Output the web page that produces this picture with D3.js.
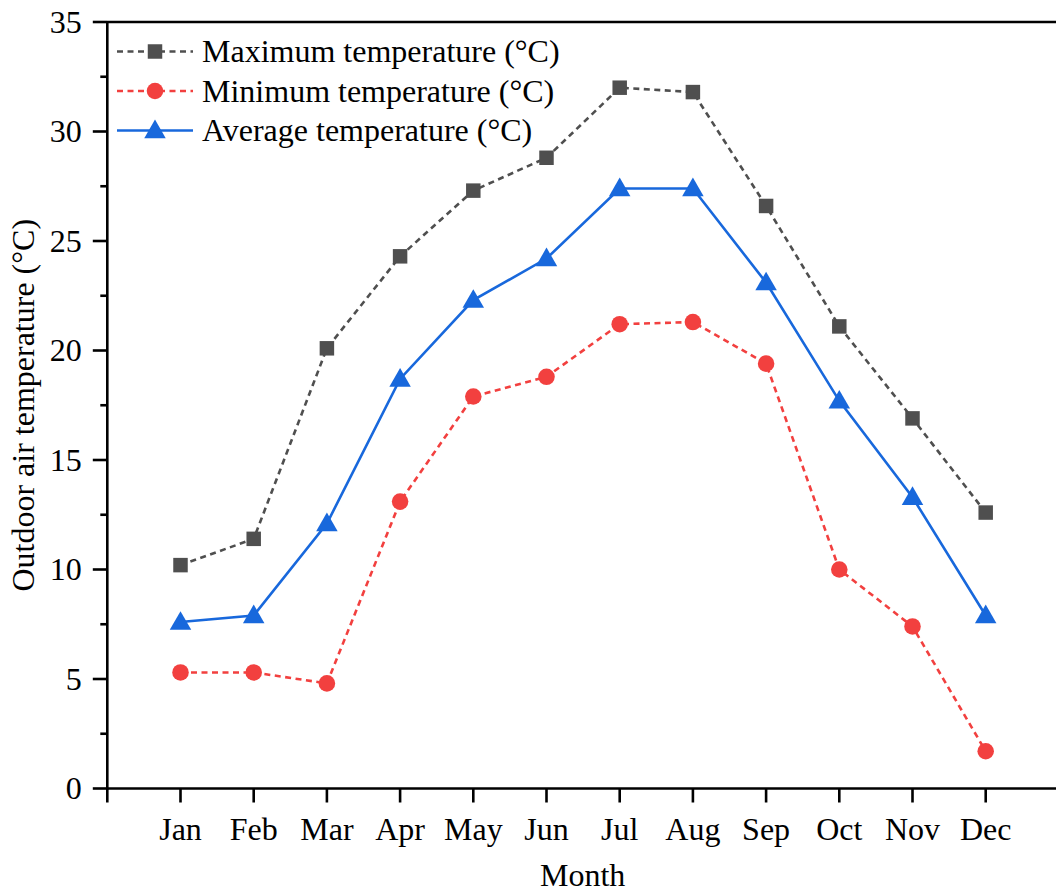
<!DOCTYPE html>
<html>
<head>
<meta charset="utf-8">
<script src="https://cdn.jsdelivr.net/npm/d3@7"></script>
<style>
  html, body { margin: 0; padding: 0; background: #fff; }
  svg { display: block; }
  text { font-family: "Liberation Serif", "Times New Roman", serif; fill: #000; }
</style>
</head>
<body>
<svg id="chart" width="1056" height="895"></svg>
<script>
// Monthly outdoor air temperature (°C)
const months = ["Jan", "Feb", "Mar", "Apr", "May", "Jun", "Jul", "Aug", "Sep", "Oct", "Nov", "Dec"];
const maxTemp = [10.2, 11.4, 20.1, 24.3, 27.3, 28.8, 32.0, 31.8, 26.6, 21.1, 16.9, 12.6];
const minTemp = [5.3, 5.3, 4.8, 13.1, 17.9, 18.8, 21.2, 21.3, 19.4, 10.0, 7.4, 1.7];
const avgTemp = [7.6, 7.9, 12.1, 18.7, 22.3, 24.2, 27.4, 27.4, 23.1, 17.7, 13.3, 7.9];
const yTicks = [0, 5, 10, 15, 20, 25, 30, 35];
const seriesNames = ["Maximum temperature (\u00B0C)", "Minimum temperature (\u00B0C)", "Average temperature (\u00B0C)"];

const svg = d3.select("#chart");
const plotLeft = 107.3, plotTop = 22, plotBottom = 788.5;
const step = 73.2;
const plotRight = plotLeft + step * 13;

// month index 1..12, axis origin at 0
const x = d3.scaleLinear().domain([0, 13]).range([plotLeft, plotRight]);
const y = d3.scaleLinear().domain([0, 35]).range([plotBottom, plotTop]);

const axisW = 2.6;
const fontSize = 32;

// frame top line
svg.append("line")
  .attr("x1", plotLeft).attr("x2", plotRight)
  .attr("y1", plotTop).attr("y2", plotTop)
  .attr("stroke", "#000").attr("stroke-width", axisW);

// y axis with major and minor ticks
const yAxis = svg.append("g").attr("transform", `translate(${plotLeft},0)`);
yAxis.append("line").attr("x1", 0).attr("x2", 0).attr("y1", plotTop - 1).attr("y2", plotBottom + 1)
  .attr("stroke", "#000").attr("stroke-width", axisW);
const yMinor = d3.range(2.5, 35, 5);
yAxis.selectAll("line.minor").data(yMinor).join("line").attr("class", "minor")
  .attr("x1", -7).attr("x2", 0).attr("y1", d => y(d)).attr("y2", d => y(d))
  .attr("stroke", "#000").attr("stroke-width", axisW);
yAxis.selectAll("line.major").data(yTicks).join("line").attr("class", "major")
  .attr("x1", -14.5).attr("x2", 0).attr("y1", d => y(d)).attr("y2", d => y(d))
  .attr("stroke", "#000").attr("stroke-width", axisW);
yAxis.selectAll("text").data(yTicks).join("text")
  .attr("x", -25.5).attr("y", d => y(d)).attr("dy", "0.33em")
  .attr("text-anchor", "end").attr("font-size", fontSize)
  .text(d => d);

// x axis
const xAxis = svg.append("g").attr("transform", `translate(0,${plotBottom})`);
xAxis.append("line").attr("x1", plotLeft - 1).attr("x2", plotRight).attr("y1", 0).attr("y2", 0)
  .attr("stroke", "#000").attr("stroke-width", axisW);
xAxis.selectAll("line.tick").data(d3.range(0, 13)).join("line").attr("class", "tick")
  .attr("x1", d => x(d)).attr("x2", d => x(d)).attr("y1", 0).attr("y2", 14)
  .attr("stroke", "#000").attr("stroke-width", axisW);
xAxis.selectAll("text").data(months).join("text")
  .attr("x", (d, i) => x(i + 1)).attr("y", 51)
  .attr("text-anchor", "middle").attr("font-size", fontSize)
  .text(d => d);

// axis titles
svg.append("text").attr("x", x(6.5) - 0.5).attr("y", 886)
  .attr("text-anchor", "middle").attr("font-size", fontSize).text("Month");
svg.append("text")
  .attr("transform", `translate(34,${(plotTop + plotBottom) / 2}) rotate(-90)`)
  .attr("text-anchor", "middle").attr("font-size", fontSize)
  .text("Outdoor air temperature (\u00B0C)");

// series
const series = [
  { name: seriesNames[0], values: maxTemp, color: "#4f4f4f", dash: "6,4.5", marker: "square" },
  { name: seriesNames[1], values: minTemp, color: "#f2403f", dash: "6,4.5", marker: "circle" },
  { name: seriesNames[2], values: avgTemp, color: "#1868dc", dash: null, marker: "triangle" }
];

const symbolPath = {
  square: d3.symbol().type(d3.symbolSquare).size(210)(),
  circle: d3.symbol().type(d3.symbolCircle).size(215)(),
  triangle: d3.symbol().type(d3.symbolTriangle).size(200)()
};

const line = d3.line().x((d, i) => x(i + 1)).y(d => y(d));

series.forEach(s => {
  const g = svg.append("g");
  g.append("path").datum(s.values)
    .attr("d", line).attr("fill", "none")
    .attr("stroke", s.color).attr("stroke-width", 2.6)
    .attr("stroke-dasharray", s.dash);
  g.selectAll("path.m").data(s.values).join("path").attr("class", "m")
    .attr("d", symbolPath[s.marker])
    .attr("transform", (d, i) => `translate(${x(i + 1)},${y(d) + (s.marker === "triangle" ? 1.5 : 0)})`)
    .attr("fill", s.color);
});

// legend
const legend = svg.append("g");
series.forEach((s, i) => {
  const cy = 51.5 + i * 39.5;
  legend.append("line").attr("x1", 117).attr("x2", 193).attr("y1", cy).attr("y2", cy)
    .attr("stroke", s.color).attr("stroke-width", 2.6).attr("stroke-dasharray", s.dash);
  legend.append("path").attr("d", symbolPath[s.marker])
    .attr("transform", `translate(155,${cy + (s.marker === "triangle" ? 1.5 : 0)})`)
    .attr("fill", s.color);
  legend.append("text").attr("x", 202).attr("y", cy + 10.5)
    .attr("font-size", fontSize).text(s.name);
});
</script>
</body>
</html>
